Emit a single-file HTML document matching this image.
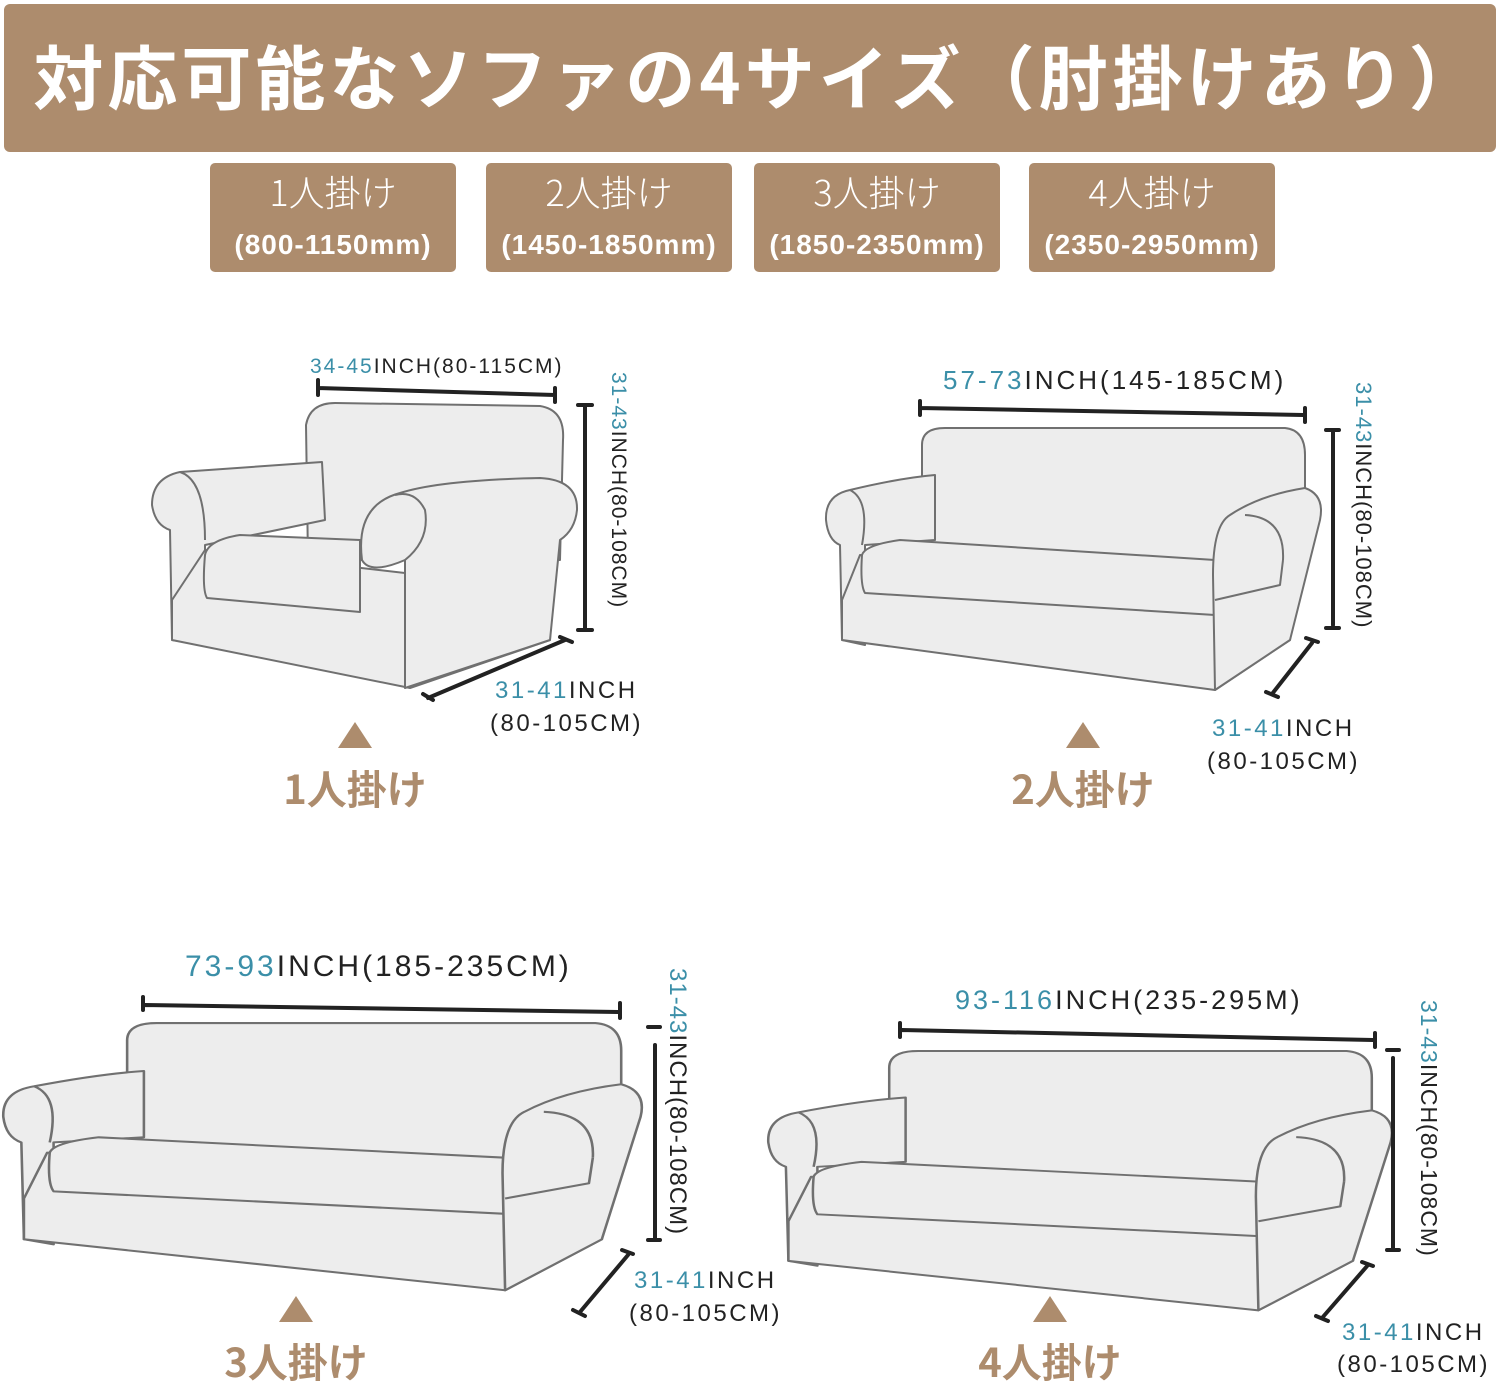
<!DOCTYPE html>
<html><head><meta charset="utf-8">
<style>
html,body{margin:0;padding:0;background:#fff;}
body{width:1500px;height:1386px;position:relative;overflow:hidden;font-family:"Liberation Sans","Noto Sans CJK JP",sans-serif;}
.hdr{position:absolute;left:4px;top:4px;width:1492px;height:148px;background:#ad8c6d;border-radius:6px;color:#fff;font-weight:bold;font-size:70px;letter-spacing:4px;text-indent:16px;text-align:center;line-height:142px;font-family:"Noto Sans CJK JP",sans-serif;}
.sb{position:absolute;top:163px;width:246px;height:109px;background:#ad8c6d;border-radius:5px;color:#fff;text-align:center;}
.sb .a{font-family:"Noto Sans CJK JP",sans-serif;font-weight:300;font-size:36px;line-height:36px;margin-top:10px;}
.sb .b{font-family:"Liberation Sans",sans-serif;font-weight:bold;font-size:28px;margin-top:20px;letter-spacing:1px;white-space:nowrap;}
</style></head><body>
<div class="hdr">対応可能なソファの4サイズ（肘掛けあり）</div>
<div class="sb" style="left:210px"><div class="a">1人掛け</div><div class="b">(800-1150mm)</div></div>
<div class="sb" style="left:486px"><div class="a">2人掛け</div><div class="b">(1450-1850mm)</div></div>
<div class="sb" style="left:754px"><div class="a">3人掛け</div><div class="b">(1850-2350mm)</div></div>
<div class="sb" style="left:1029px"><div class="a">4人掛け</div><div class="b">(2350-2950mm)</div></div>

<svg width="1500" height="1386" style="position:absolute;left:0;top:0" xmlns="http://www.w3.org/2000/svg">
<defs>
<g id="sofa">
<path d="M97,150 L97,20 Q97,3 120,3 L460,3 Q480,5 480,30 L480,150 Z"/>
<path d="M25,65 Q0,70 1,95 Q3,115 15,120 L17,215 L40,220 L40,120 L110,115 L110,50 Q75,53 25,65 Z"/>
<path d="M25,65 Q45,75 37,120" fill="none"/>
<path d="M17,175 L17,215 L390,265 L465,215 L470,165 L35,130 Z"/>
<path d="M37,130 Q35,160 40,168 L390,190 L390,135 L75,115 Q40,120 37,130 Z"/>
<path d="M390,265 L388,150 Q388,100 405,90 Q435,70 480,63 Q500,70 495,95 L465,215 Z"/>
<path d="M458,135 Q460,92 420,90" fill="none"/>
<path d="M458,135 L455,160 L390,175" fill="none"/>
</g>
</defs>
<g fill="#ededed" stroke="#707070" stroke-width="2" stroke-linejoin="round">
<path d="M308,560 L306,425 Q310,403 335,403 L540,406 Q565,410 563,440 L560,560 Z"/>
<path d="M180,472 Q152,478 152,505 Q155,525 170,530 L172,640 L205,645 L205,545 L325,520 L322,462 Z"/>
<path d="M180,472 Q205,480 205,540" fill="none"/>
<path d="M172,600 L172,640 L410,688 L550,640 L552,590 L205,550 Z"/>
<path d="M205,555 Q202,590 207,598 L360,612 L360,540 L240,535 Q208,540 205,555 Z"/>
<path d="M405,688 L405,560 Q370,575 362,560 Q355,505 400,493 Q440,480 540,478 Q578,480 577,510 Q575,530 560,540 L550,640 Z"/>
<path d="M405,560 Q430,540 425,510 Q415,490 395,495" fill="none"/>
<use href="#sofa" transform="translate(825,425)"/>
<use href="#sofa" transform="translate(2,1020) scale(1.29,1.02)"/>
<use href="#sofa" transform="translate(767,1048) scale(1.26,0.99)"/>
</g>
<g stroke="#222" stroke-width="4" stroke-linecap="round" fill="none">
<path d="M318,388 L555,395 M318,380 L318,395 M555,388 L555,402"/>
<path d="M585,405 L585,630 M578,405 L592,405 M578,630 L592,630"/>
<path d="M428,698 L565,640 M423,694 L433,700 M560,637 L572,642"/>
<path d="M920,408 L1303,415 M920,401 L920,415 M1305,408 L1305,422"/>
<path d="M1333,432 L1333,625 M1326,430 L1339,430 M1326,628 L1339,628"/>
<path d="M1272,694 L1312,643 M1266,692 L1278,697 M1306,638 L1318,642"/>
<path d="M145,1005 L618,1012 M143,997 L143,1010 M620,1003 L620,1018"/>
<path d="M655,1045 L655,1240 M648,1027 L660,1027 M648,1240 L660,1240"/>
<path d="M580,1312 L628,1255 M573,1310 L585,1316 M622,1250 L633,1254"/>
<path d="M902,1030 L1373,1040 M900,1023 L900,1037 M1375,1033 L1375,1047"/>
<path d="M1393,1058 L1393,1250 M1387,1050 L1399,1050 M1387,1250 L1399,1250"/>
<path d="M1322,1318 L1368,1265 M1316,1316 L1328,1321 M1362,1262 L1373,1266"/>
</g>
<g font-family="Liberation Sans, sans-serif" fill="#222" letter-spacing="3">
<text x="310" y="373" font-size="21" letter-spacing="2"><tspan fill="#3b8fa8">34-45</tspan>INCH(80-115CM)</text>
<text x="0" y="0" font-size="21" letter-spacing="1" transform="translate(612,372) rotate(90)"><tspan fill="#3b8fa8">31-43</tspan>INCH(80-108CM)</text>
<text x="495" y="698" font-size="24" letter-spacing="2.5"><tspan fill="#3b8fa8">31-41</tspan>INCH</text>
<text x="490" y="731" font-size="24" letter-spacing="2.5">(80-105CM)</text>
<text x="943" y="389" font-size="26"><tspan fill="#3b8fa8">57-73</tspan>INCH(145-185CM)</text>
<text x="0" y="0" font-size="22" letter-spacing="1" transform="translate(1356,382) rotate(90)"><tspan fill="#3b8fa8">31-43</tspan>INCH(80-108CM)</text>
<text x="1212" y="736" font-size="24" letter-spacing="2.5"><tspan fill="#3b8fa8">31-41</tspan>INCH</text>
<text x="1207" y="769" font-size="24" letter-spacing="2.5">(80-105CM)</text>
<text x="185" y="976" font-size="30"><tspan fill="#3b8fa8">73-93</tspan>INCH(185-235CM)</text>
<text x="0" y="0" font-size="24" letter-spacing="1" transform="translate(670,968) rotate(90)"><tspan fill="#3b8fa8">31-43</tspan>INCH(80-108CM)</text>
<text x="634" y="1288" font-size="24" letter-spacing="2.5"><tspan fill="#3b8fa8">31-41</tspan>INCH</text>
<text x="629" y="1321" font-size="24" letter-spacing="2.5">(80-105CM)</text>
<text x="955" y="1009" font-size="27"><tspan fill="#3b8fa8">93-116</tspan>INCH(235-295M)</text>
<text x="0" y="0" font-size="23" letter-spacing="1" transform="translate(1421,1000) rotate(90)"><tspan fill="#3b8fa8">31-43</tspan>INCH(80-108CM)</text>
<text x="1342" y="1340" font-size="24" letter-spacing="2.5"><tspan fill="#3b8fa8">31-41</tspan>INCH</text>
<text x="1337" y="1372" font-size="24" letter-spacing="2.5">(80-105CM)</text>
</g>
<g fill="#ad8c6d">
<path d="M355,722 L372,748 L338,748 Z"/>
<path d="M1083,722 L1100,748 L1066,748 Z"/>
<path d="M296,1296 L313,1322 L279,1322 Z"/>
<path d="M1050,1296 L1067,1322 L1033,1322 Z"/>
</g>
<g fill="#ad8c6d" font-family="Noto Sans CJK JP, sans-serif" font-weight="bold" font-size="40" text-anchor="middle">
<text x="355" y="804">1人掛け</text>
<text x="1083" y="804">2人掛け</text>
<text x="296" y="1377">3人掛け</text>
<text x="1050" y="1377">4人掛け</text>
</g>
</svg>
</body></html>
